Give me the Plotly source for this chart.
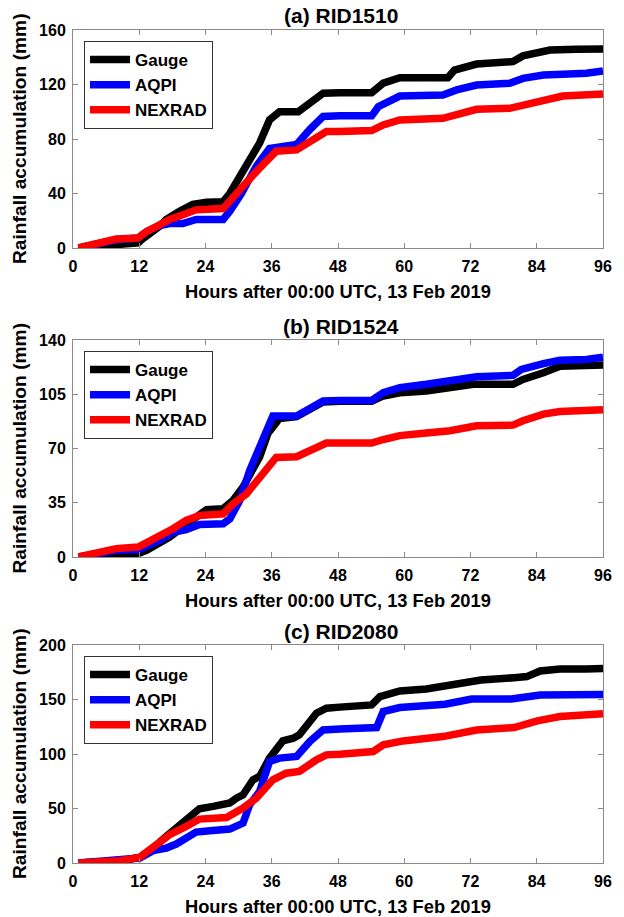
import plotly.graph_objects as go

# ---------------- data ----------------
# Panel (a) RID1510
a_gauge_h = [1, 3.6, 7.8, 11.8, 12.4, 15.7, 16.9, 19.3, 21.7, 24.2, 27.2, 28.4, 29.6, 32, 33.8, 35.6, 37.4, 40.8, 42.9, 45.3, 48.3, 54.1, 56.2, 59.2, 67.9, 69.1, 73.1, 79.7, 81.5, 84.5, 86.4, 91.2, 96]
a_gauge_v = [0, 0.5, 2.5, 3.7, 6, 16, 21, 27, 32, 33.5, 34, 40, 48, 65, 77, 94, 100, 100, 106, 113.6, 114, 114, 121, 125, 125, 130.6, 135, 136.8, 141, 144, 145.3, 145.8, 146]
a_aqpi_h = [1, 3.6, 7.8, 11.8, 13.3, 15.7, 17.5, 19.9, 22.3, 27.2, 28.4, 30.5, 33.2, 35.6, 40.5, 42.9, 45.3, 48.3, 54.1, 55.3, 57.4, 59.2, 67, 69.5, 73.1, 79.1, 81.5, 85.2, 88.7, 93, 96]
a_aqpi_v = [0, 2.4, 6, 7.3, 12, 16.4, 18, 18, 21, 21, 27, 40, 60, 73, 76, 87, 96.5, 97, 97, 103.7, 108.6, 111.5, 112.3, 116, 119.6, 120.9, 124.5, 127, 127.6, 128.2, 130]
a_nex_h = [1, 3.6, 7.8, 11.8, 13.3, 15.7, 17.5, 19.9, 22.3, 27.2, 29, 31.4, 33.8, 36.8, 40.5, 43.5, 45.9, 48.3, 51.3, 54.1, 56.2, 59.2, 67, 69.5, 73.1, 79.1, 81.5, 85.8, 88.7, 96]
a_nex_v = [0, 2.4, 6.6, 7.3, 12, 17, 21, 24.4, 28, 29, 38, 48, 58.6, 71, 72, 79, 85.5, 85.5, 85.5, 86.2, 90.3, 94, 95.2, 97.6, 101.8, 102.5, 105, 109.9, 111.5, 113]

# Panel (b) RID1524
b_gauge_h = [1, 3.6, 7.8, 11.8, 13.3, 15.7, 17.5, 19.9, 22.3, 24.2, 27.2, 29, 30.8, 32.6, 33.8, 35.3, 37.4, 40.5, 42.9, 45.3, 48.3, 54.1, 56.2, 59.2, 64, 68.3, 72.5, 79.7, 81.5, 85.2, 88.2, 96]
b_gauge_v = [0, 0, 1.7, 2.2, 4.3, 8.6, 12.9, 19.4, 25.8, 30.6, 31.2, 36.6, 45.2, 56, 64.6, 79.7, 89.4, 90.5, 95.8, 100, 100.5, 100.5, 103.9, 106, 107.1, 109.3, 111.4, 111.4, 114.6, 118.9, 123.1, 123.8]
b_aqpi_h = [1, 3.6, 7.8, 11.8, 13.3, 15.7, 18.1, 20.5, 22.9, 27.2, 28.4, 30.2, 32, 33.2, 35.3, 36.2, 40.5, 42.9, 45.3, 48.3, 54.1, 56.2, 59.2, 64, 68.3, 73.1, 79.7, 81.2, 85.2, 88.2, 93, 96]
b_aqpi_v = [0, 1.7, 4.3, 4.7, 6.9, 10.7, 16, 17.6, 21, 21.4, 24.6, 36.4, 55.7, 66.4, 83.5, 91, 91, 95.7, 100.6, 101, 101, 106, 109.3, 111.4, 113.5, 116.3, 117.2, 121, 124.8, 127, 127.4, 128.9]
b_nex_h = [1, 3.6, 7.8, 11.8, 13.3, 15.7, 18.1, 20.5, 22.9, 27.2, 29, 31.4, 33.8, 36.8, 40.5, 43.5, 45.9, 48.3, 54.1, 56.2, 59.2, 64, 68.3, 73.1, 79.7, 81.5, 85.2, 88.2, 96]
b_nex_v = [0, 1.7, 5.4, 6.4, 9, 12.8, 18.2, 23.6, 26.8, 27.8, 34.3, 40.7, 51.4, 64.2, 64.7, 69.6, 73.5, 73.5, 73.5, 75.8, 78.3, 80, 81.5, 84.7, 85.1, 87.9, 92.2, 93.9, 95]

# Panel (c) RID2080
c_gauge_h = [1, 5.4, 8.5, 12.1, 14.5, 16.9, 18.7, 20.5, 22.9, 25.4, 28.4, 29.6, 30.8, 32.6, 33.8, 35.6, 38, 39.9, 41, 44.1, 45.9, 48.3, 54.1, 55.6, 59.2, 64, 68.7, 71.6, 73.9, 79.9, 82.2, 84.6, 88.2, 93, 96]
c_gauge_v = [0, 0.6, 2.1, 5.2, 13.7, 24.4, 32, 38, 49.8, 52, 55, 59.5, 62.6, 76.3, 79.4, 96.2, 112, 114.5, 117.6, 137.4, 142, 143, 145, 152.7, 157.9, 159.7, 163.4, 164.9, 167.9, 170, 171, 176.2, 178, 178, 178.5]
c_aqpi_h = [1, 5.4, 8.5, 12.1, 14.5, 16.9, 18.7, 22.3, 24.8, 28.4, 30.8, 32, 33.8, 35.6, 37.4, 40.5, 42.9, 45.3, 48.3, 55, 56.2, 59.2, 67.4, 72.2, 79.4, 84.6, 96]
c_aqpi_v = [0, 1.5, 3, 4.6, 11.3, 13.7, 17.4, 28.4, 29.6, 31.1, 36.6, 53.4, 65.6, 93.1, 96.2, 97.7, 111.5, 122.1, 123, 124.3, 139, 142.6, 145.6, 150.5, 150.5, 154.2, 154.5]
c_nex_h = [1, 5.4, 8.5, 12.1, 14.5, 17.5, 20.5, 22.9, 27.8, 30.8, 33.2, 36.2, 38.6, 41, 44.1, 45.9, 48.3, 51.3, 54.4, 56.2, 59.8, 67, 73.1, 79.9, 84.1, 88.2, 96]
c_nex_v = [0, 0.6, 2.1, 5.2, 13.7, 26, 33.6, 40.3, 41.8, 50.4, 59.5, 76.3, 82.4, 84, 94.7, 99.2, 99.8, 100.8, 102.3, 108.4, 112, 116, 122, 124.3, 130.4, 134.4, 137]

series_names = ["Gauge", "AQPI", "NEXRAD"]
panel_titles = ["(a) RID1510", "(b) RID1524", "(c) RID2080"]
x_ticks = [0, 12, 24, 36, 48, 60, 72, 84, 96]
y_ticks_a = [0, 40, 80, 120, 160]
y_ticks_b = [0, 35, 70, 105, 140]
y_ticks_c = [0, 50, 100, 150, 200]
x_title = "Hours after 00:00 UTC, 13 Feb 2019"
y_title = "Rainfall accumulation (mm)"

# ---------------- layout ----------------
W, H = 624, 917
FONT = "Liberation Sans, Arial, Helvetica, sans-serif"
colors = ["#000000", "#0000ff", "#ff0000"]
LW = 7.5
AXC = "#8a8a8a"

# pixel boxes of each plot area: (top, bottom)
boxes = [(30, 248), (340, 557), (645, 863)]
x_left, x_right = 73, 603

panels = [
    ([(a_gauge_h, a_gauge_v), (a_aqpi_h, a_aqpi_v), (a_nex_h, a_nex_v)], y_ticks_a),
    ([(b_gauge_h, b_gauge_v), (b_aqpi_h, b_aqpi_v), (b_nex_h, b_nex_v)], y_ticks_b),
    ([(c_gauge_h, c_gauge_v), (c_aqpi_h, c_aqpi_v), (c_nex_h, c_nex_v)], y_ticks_c),
]

fig = go.Figure()
layout = dict(
    template="none",
    width=W, height=H,
    margin=dict(l=0, r=0, t=0, b=0, autoexpand=False),
    paper_bgcolor="white", plot_bgcolor="white",
    font=dict(family=FONT, color="black", size=16),
    annotations=[],
)

for i, (series, yt) in enumerate(panels):
    n = "" if i == 0 else str(i + 1)
    top, bot = boxes[i]
    legname = "legend" + n
    for (hx, vy), name, col in zip(series, series_names, colors):
        fig.add_trace(go.Scatter(
            x=hx, y=vy, mode="lines", name=name,
            line=dict(color=col, width=LW),
            xaxis="x" + n, yaxis="y" + n, legend=legname,
        ))
    layout["xaxis" + n] = dict(
        domain=[x_left / W, x_right / W], anchor="y" + n, automargin=False,
        range=[0, 96], tickvals=x_ticks, ticks="inside", ticklen=5,
        tickcolor=AXC, showline=True, linecolor=AXC, linewidth=1, mirror="ticks",
        showgrid=False, zeroline=False,
        tickfont=dict(family=FONT, size=16, weight="bold", color="black"),
        ticklabelstandoff=4,
    )
    layout["yaxis" + n] = dict(
        domain=[1 - bot / H, 1 - top / H], anchor="x" + n, automargin=False,
        range=[0, yt[-1]], tickvals=yt, ticks="inside", ticklen=5,
        tickcolor=AXC, showline=True, linecolor=AXC, linewidth=1, mirror="ticks",
        showgrid=False, zeroline=False,
        tickfont=dict(family=FONT, size=16, weight="bold", color="black"),
        ticklabelstandoff=3,
    )
    layout[legname] = dict(
        x=84 / W, y=1 - (top + 11) / H, xanchor="left", yanchor="top",
        bgcolor="white", bordercolor="#333333", borderwidth=1,
        font=dict(family=FONT, size=17, weight="bold", color="black"),
        tracegroupgap=0, itemwidth=40,
    )
    # panel title
    layout["annotations"].append(dict(
        text="<b>%s</b>" % panel_titles[i], x=(x_left + x_right) / 2 / W + 3 / W, y=1 - (top - 14) / H,
        xref="paper", yref="paper", xanchor="center", yanchor="middle",
        showarrow=False, font=dict(family=FONT, size=21, color="black"),
    ))
    # x title
    layout["annotations"].append(dict(
        text="<b>%s</b>" % x_title, x=(x_left + x_right) / 2 / W, y=1 - (bot + 43) / H,
        xref="paper", yref="paper", xanchor="center", yanchor="middle",
        showarrow=False, font=dict(family=FONT, size=18.3, color="black"),
    ))
    # y title
    layout["annotations"].append(dict(
        text="<b>%s</b>" % y_title, x=19 / W, y=1 - (top + bot) / 2 / H,
        xref="paper", yref="paper", xanchor="center", yanchor="middle", textangle=-90,
        showarrow=False, font=dict(family=FONT, size=19.2, color="black"),
    ))

fig.update_layout(**layout)
fig.write_html(
    "out.html",
    config={"displayModeBar": False},
    post_script="document.body.style.margin='0';document.body.style.overflow='hidden';",
)
